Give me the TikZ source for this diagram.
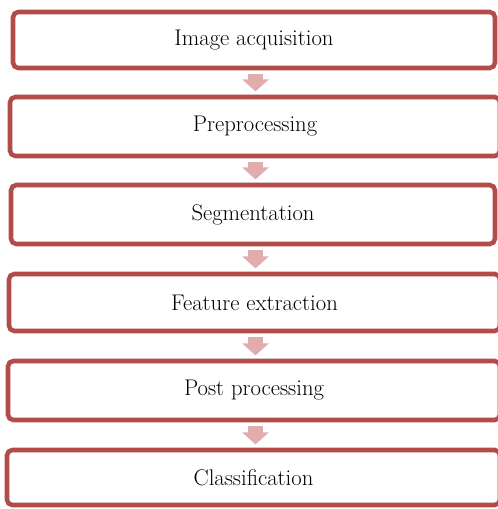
\documentclass[tikz,border=0pt]{standalone}
\usepackage{tikz}
\usetikzlibrary{positioning, arrows.meta}

\definecolor{boxred}{RGB}{178,76,72}
\definecolor{arrowpink}{RGB}{224,172,172}

\begin{document}
\begin{tikzpicture}[x=0.75pt, y=-0.75pt,
        stage/.style={draw=boxred, line width=3.4pt, rounded corners=4pt, fill=white,
            inner sep=0pt, font=\fontsize{17}{20}\selectfont},
        flow/.style={draw=arrowpink, line width=11.25pt,
            -{Triangle[width=19.5pt, length=9pt]}, shorten <=3pt, shorten >=2.5pt}]
                \useasboundingbox (0, 0) rectangle (498, 509);
                \coordinate (ax) at (255.5, 0);

                \node [stage, minimum width=361.5pt, minimum height=42pt] (acq) at (254, 40) {Image acquisition};
                \node [stage, minimum width=367.5pt, minimum height=44.25pt] (pre) at (255, 126.5) {Preprocessing};
                \node [stage, minimum width=363pt, minimum height=44.25pt] (seg) at (253, 214.5) {Segmentation};
                \node [stage, minimum width=368.25pt, minimum height=42.75pt] (feat) at (254.5, 302.5) {Feature extraction};
                \node [stage, minimum width=369pt, minimum height=44.25pt] (post) at (254, 390.5) {Post processing};
                \node [stage, minimum width=369.75pt, minimum height=41.25pt] (cls) at (253.5, 477.5) {Classification};

                \draw [flow] (acq.south -| ax) -- (pre.north -| ax);
                \draw [flow] (pre.south -| ax) -- (seg.north -| ax);
                \draw [flow] (seg.south -| ax) -- (feat.north -| ax);
                \draw [flow] (feat.south -| ax) -- (post.north -| ax);
                \draw [flow] (post.south -| ax) -- (cls.north -| ax);
\end{tikzpicture}
\end{document}
